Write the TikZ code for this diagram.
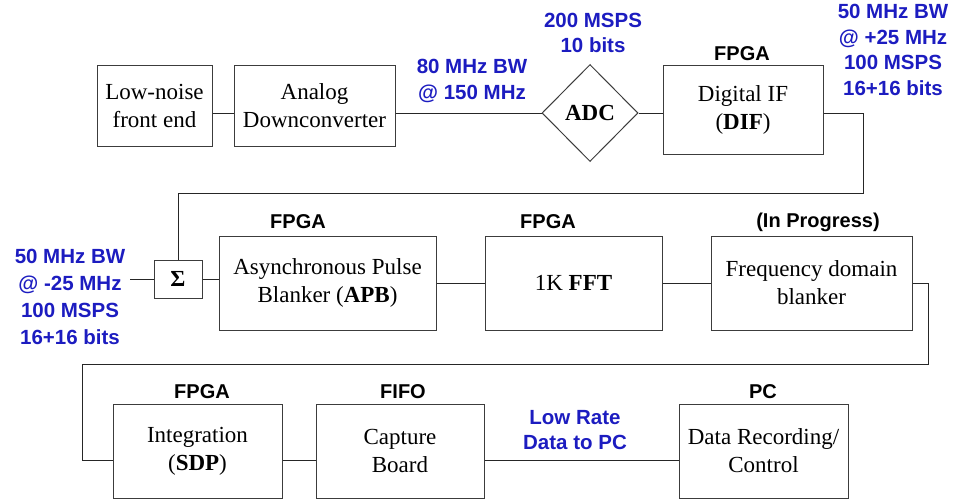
\documentclass[tikz,border=0pt]{standalone}
\usepackage{fontspec}
\setmainfont{Liberation Serif}
\setsansfont{Liberation Sans}
\usetikzlibrary{shapes.geometric}
\definecolor{lblblue}{RGB}{28,28,192}
\definecolor{edgegray}{RGB}{60,60,60}
\begin{document}
\begin{tikzpicture}[x=1pt,y=-1pt,
  blk/.style={draw=edgegray,line width=1pt,rectangle,inner sep=0pt,align=center,
    font=\fontsize{23}{28}\selectfont},
  conn/.style={draw=black!85,line width=0.9pt},
  bluelbl/.style={text=lblblue,align=center,inner sep=0pt,
    font=\sffamily\bfseries\fontsize{20.5}{25.5}\selectfont},
  toplbl/.style={text=black,align=center,inner sep=0pt,
    font=\sffamily\bfseries\fontsize{20}{24}\selectfont}]
\useasboundingbox (0,0) rectangle (953,501);
% row 1
\node[blk,minimum width=115,minimum height=81] (lnfe) at (154.5,105.5) {Low-noise\\front end};
\node[blk,minimum width=161,minimum height=81] (adcd) at (314.5,105.5) {Analog\\Downconverter};
\node[blk,diamond,aspect=1,minimum width=96,minimum height=97] (adc) at (590,113) {\textbf{ADC}};
\node[blk,minimum width=160,minimum height=89] (dif) at (743,109.5) {Digital IF\\(\textbf{DIF})};
% row 2
\node[blk,minimum width=48,minimum height=38] (sig) at (178,279) {\textbf{Σ}};
\node[blk,minimum width=217,minimum height=94] (apb) at (327.5,283) {Asynchronous Pulse\\Blanker (\textbf{APB})};
\node[blk,minimum width=177,minimum height=94] (fft) at (573.5,283) {1K \textbf{FFT}};
\node[blk,minimum width=201,minimum height=94] (fdb) at (811.5,283) {Frequency domain\\blanker};
% row 3
\node[blk,minimum width=169,minimum height=94] (integ) at (197.5,451) {Integration\\(\textbf{SDP})};
\node[blk,minimum width=168,minimum height=94] (cap) at (400,451) {Capture\\Board};
\node[blk,minimum width=169,minimum height=94] (dr) at (763.5,451) {Data Recording/\\Control};
% labels
\node[bluelbl] (l80) at (472,81) {80 MHz BW\\@ 150 MHz};
\node[bluelbl] (l200) at (593,33) {200 MSPS\\10 bits};
\node[bluelbl] (lright) at (893,50) {50 MHz BW\\@ +25 MHz\\100 MSPS\\16+16 bits};
\node[bluelbl,font=\sffamily\bfseries\fontsize{20.5}{27}\selectfont] (lleft) at (70,296.5) {50 MHz BW\\@ -25 MHz\\100 MSPS\\16+16 bits};
\node[bluelbl] (llow) at (575,430) {Low Rate\\Data to PC};
\node[toplbl] (t1) at (742,54) {FPGA};
\node[toplbl] (t2) at (298,222) {FPGA};
\node[toplbl] (t3) at (548,222) {FPGA};
\node[toplbl] (t4) at (818,222) {(In Progress)};
\node[toplbl] (t5) at (202,392) {FPGA};
\node[toplbl] (t6) at (403,392) {FIFO};
\node[toplbl] (t7) at (763,392) {PC};
% routing coordinates
\coordinate (r1a) at (863,113);
\coordinate (r1b) at (863,193);
\coordinate (r1c) at (178,193);
\coordinate (r2a) at (928,283);
\coordinate (r2b) at (928,364);
\coordinate (r2c) at (82,364);
\coordinate (r3) at (82,460);
\coordinate (lstart) at (130,279);
% connectors
\draw[conn] (lnfe.east |- adc) -- (adcd.west |- adc);
\draw[conn] (adcd.east |- adc) -- (adc.west);
\draw[conn] (adc.east) -- (dif.west |- adc);
\draw[conn] (dif.east |- adc) -- (r1a) -- (r1b) -- (r1c) -- (sig.north);
\draw[conn] (lstart) -- (sig.west);
\draw[conn] (sig.east) -- (apb.west |- sig);
\draw[conn] (apb.east) -- (fft.west);
\draw[conn] (fft.east) -- (fdb.west);
\draw[conn] (fdb.east) -- (r2a) -- (r2b) -- (r2c) -- (r3) -- (integ.west |- r3);
\draw[conn] (integ.east |- r3) -- (cap.west |- r3);
\draw[conn] (cap.east |- r3) -- (dr.west |- r3);
\end{tikzpicture}
\end{document}
